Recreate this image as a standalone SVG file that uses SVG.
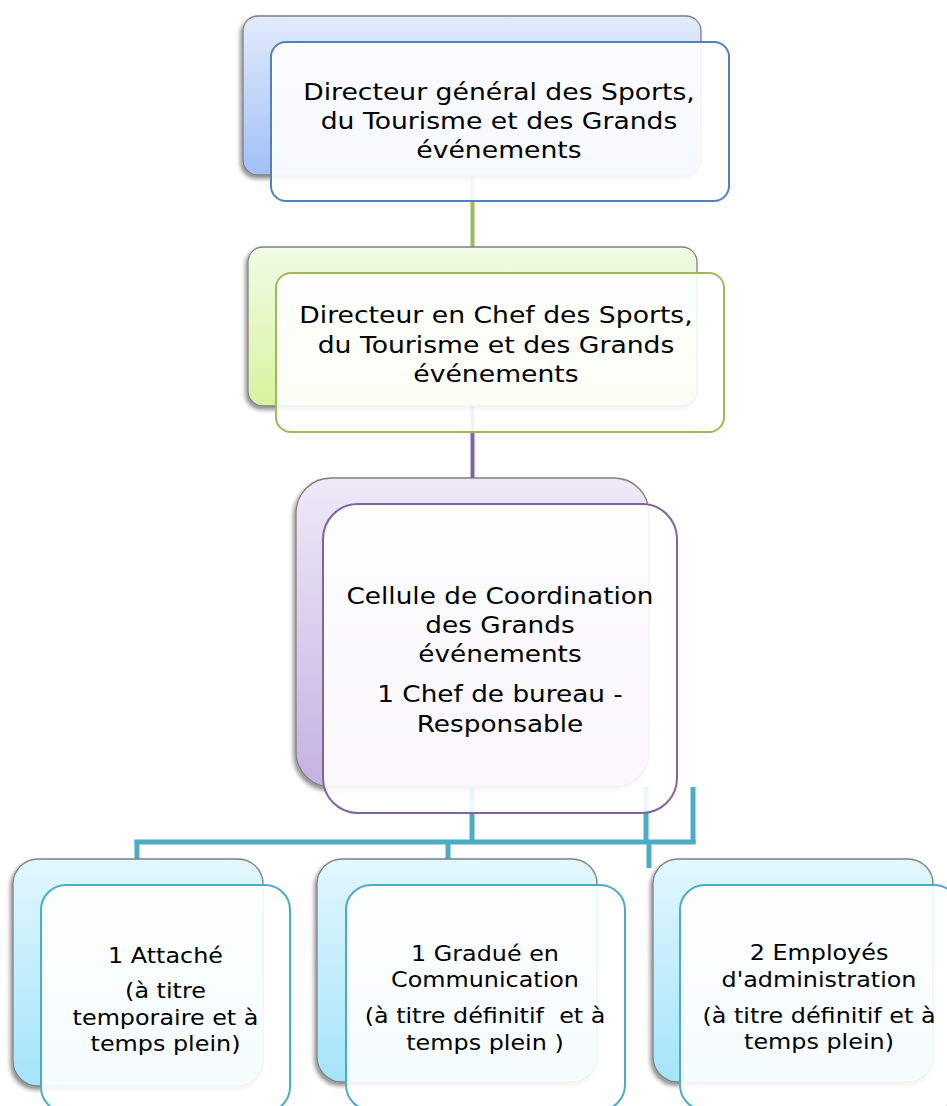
<svg xmlns="http://www.w3.org/2000/svg" width="947" height="1106" viewBox="0 0 947 1106">
<defs>
<linearGradient id="gBlue" x1="0" y1="0" x2="0" y2="1"><stop offset="0" stop-color="#e2ebfb"/><stop offset="1" stop-color="#a1c0f6"/></linearGradient>
<linearGradient id="gGreen" x1="0" y1="0" x2="0" y2="1"><stop offset="0" stop-color="#f2fbe5"/><stop offset="1" stop-color="#d5f49e"/></linearGradient>
<linearGradient id="gPurple" x1="0" y1="0" x2="0" y2="1"><stop offset="0" stop-color="#efe9f7"/><stop offset="1" stop-color="#c5b1e2"/></linearGradient>
<linearGradient id="gCyan" x1="0" y1="0" x2="0" y2="1"><stop offset="0" stop-color="#e2f7fd"/><stop offset="1" stop-color="#a4e4fa"/></linearGradient>
<filter id="sh" x="-10%" y="-10%" width="120%" height="125%"><feDropShadow dx="-2" dy="3" stdDeviation="2.2" flood-color="#000" flood-opacity="0.45"/></filter>
<style>
.back{stroke:#808080;stroke-width:1.3;filter:url(#sh)}
.front{fill:#ffffff;fill-opacity:0.9;stroke-width:2}
.t{font-family:"DejaVu Sans",Verdana,sans-serif;fill:#000;text-anchor:middle}
.big{font-size:23.8px}
.mid{font-size:23.5px}
.small{font-size:21.3px}
.teal{stroke:#4bacc6;stroke-width:5;fill:none}
</style>
</defs>
<rect width="947" height="1106" fill="#ffffff"/>
<g id="connectors">
<line x1="472.5" y1="175" x2="472.5" y2="248" stroke="#9bbb59" stroke-width="4"/>
<line x1="472.5" y1="406" x2="472.5" y2="479" stroke="#8064a2" stroke-width="4"/>
<line class="teal" x1="472" y1="787" x2="472" y2="842"/>
<line class="teal" x1="646" y1="787" x2="646" y2="842"/>
<line class="teal" x1="693" y1="787" x2="693" y2="844"/>
<line class="teal" x1="134.5" y1="842" x2="695.5" y2="842"/>
<line class="teal" x1="137" y1="840" x2="137" y2="859"/>
<line class="teal" x1="448" y1="840" x2="448" y2="859"/>
<line class="teal" x1="649" y1="840" x2="649" y2="868"/>
</g>
<g id="node-dg">
<rect class="back" x="243" y="16" width="458" height="159" rx="15" fill="url(#gBlue)"/>
<rect class="front" x="271" y="42" width="458" height="159" rx="15" stroke="#4f81bd"/>
<g transform="translate(499 0) scale(1.12 1)"><text class="t big"><tspan x="0" y="100">Directeur général des Sports,</tspan><tspan x="0" y="129">du Tourisme et des Grands</tspan><tspan x="0" y="158">événements</tspan></text></g>
</g>
<g id="node-dc">
<rect class="back" x="248" y="247" width="449" height="159" rx="15" fill="url(#gGreen)"/>
<rect class="front" x="276" y="273" width="448" height="159" rx="15" stroke="#9bbb59"/>
<g transform="translate(496 0) scale(1.12 1)"><text class="t big"><tspan x="0" y="323">Directeur en Chef des Sports,</tspan><tspan x="0" y="353">du Tourisme et des Grands</tspan><tspan x="0" y="382">événements</tspan></text></g>
</g>
<g id="node-cellule">
<rect class="back" x="296" y="478" width="353" height="309" rx="35" fill="url(#gPurple)"/>
<rect class="front" x="323" y="504" width="354" height="309" rx="35" stroke="#8064a2"/>
<g transform="translate(500 0) scale(1.12 1)"><text class="t mid"><tspan x="0" y="604">Cellule de Coordination</tspan><tspan x="0" y="633">des Grands</tspan><tspan x="0" y="662">événements</tspan><tspan x="0" y="702">1 Chef de bureau -</tspan><tspan x="0" y="732">Responsable</tspan></text></g>
</g>
<g id="node-attache">
<rect class="back" x="13" y="859" width="250" height="227" rx="25" fill="url(#gCyan)"/>
<rect class="front" x="41" y="885" width="249" height="227" rx="25" stroke="#4bacc6"/>
<g transform="translate(165.5 0) scale(1.12 1)"><text class="t small"><tspan x="0" y="963">1 Attaché</tspan><tspan x="0" y="998">(à titre</tspan><tspan x="0" y="1025">temporaire et à</tspan><tspan x="0" y="1051">temps plein)</tspan></text></g>
</g>
<g id="node-gradue">
<rect class="back" x="317" y="859" width="280" height="223" rx="25" fill="url(#gCyan)"/>
<rect class="front" x="346" y="885" width="279" height="225" rx="25" stroke="#4bacc6"/>
<g transform="translate(485 0) scale(1.12 1)"><text class="t small" xml:space="preserve"><tspan x="0" y="961">1 Gradué en</tspan><tspan x="0" y="987">Communication</tspan><tspan x="0" y="1023">(à titre définitif  et à</tspan><tspan x="0" y="1050">temps plein )</tspan></text></g>
</g>
<g id="node-employes">
<rect class="back" x="653" y="859" width="280" height="223" rx="25" fill="url(#gCyan)"/>
<rect class="front" x="680" y="885" width="279" height="225" rx="25" stroke="#4bacc6"/>
<g transform="translate(819 0) scale(1.12 1)"><text class="t small"><tspan x="0" y="960">2 Employés</tspan><tspan x="0" y="987">d'administration</tspan><tspan x="0" y="1023">(à titre définitif et à</tspan><tspan x="0" y="1049">temps plein)</tspan></text></g>
</g>
</svg>
